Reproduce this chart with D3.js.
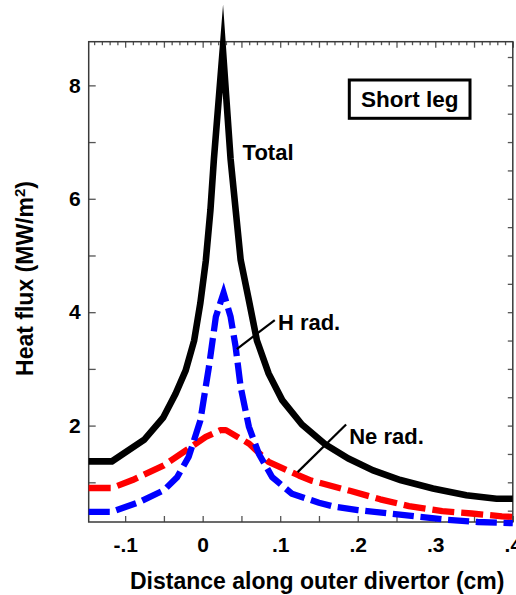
<!DOCTYPE html>
<html>
<head>
<meta charset="utf-8">
<script src="https://cdn.jsdelivr.net/npm/d3@7"></script>
<style>
  html, body { margin: 0; padding: 0; background: #fff; }
  svg { display: block; }
  text { font-family: "Liberation Sans", Arial, sans-serif; font-weight: bold; fill: #000; }
</style>
</head>
<body>
<svg id="chart" width="516" height="595"></svg>
<script>
// ---------- data ----------
const totalX = [-0.147, -0.117, -0.0755, -0.051, -0.035, -0.022, -0.011, -0.003, 0.004, 0.010, 0.0145, 0.026, 0.036, 0.049, 0.0596, 0.070, 0.085, 0.1026, 0.128, 0.158, 0.188, 0.22, 0.255, 0.297, 0.34, 0.379, 0.40];
const totalY = [1.37, 1.37, 1.75, 2.14, 2.56, 2.97, 3.5, 4.16, 4.9, 5.8, 6.7, 8.65, 6.7, 4.92, 4.21, 3.5, 2.92, 2.45, 2.02, 1.67, 1.42, 1.21, 1.04, 0.89, 0.77, 0.71, 0.71];

const hradX = [-0.147, -0.117, -0.082, -0.05, -0.033, -0.018, -0.003, 0.008, 0.017, 0.027, 0.036, 0.0425, 0.049, 0.0596, 0.0725, 0.0897, 0.115, 0.15, 0.17, 0.2, 0.24, 0.28, 0.315, 0.355, 0.40];
const hradY = [0.48, 0.48, 0.65, 0.86, 1.09, 1.45, 2.09, 3.03, 3.92, 4.34, 3.92, 3.39, 2.68, 1.98, 1.5, 1.09, 0.8, 0.64, 0.57, 0.51, 0.45, 0.39, 0.34, 0.30, 0.28];

const neradX = [-0.147, -0.117, -0.0905, -0.05, -0.022, 0.004, 0.023, 0.030, 0.06, 0.085, 0.124, 0.14, 0.19, 0.229, 0.266, 0.309, 0.347, 0.386, 0.40];
const neradY = [0.9, 0.9, 1.04, 1.3, 1.56, 1.8, 1.92, 1.92, 1.68, 1.36, 1.12, 1.03, 0.85, 0.70, 0.58, 0.49, 0.45, 0.40, 0.39];

const xDomain = [-0.147, 0.40];
const yDomain = [0.3, 8.77];
const xTickLabels = {"-0.1": "-.1", "0": "0", "0.1": ".1", "0.2": ".2", "0.3": ".3", "0.4": ".4"};
const yTickLabels = {"2": "2", "4": "4", "6": "6", "8": "8"};
const xTitle = "Distance along outer divertor (cm)";
const yTitleMain = "Heat flux (MW/m";
const yTitleSup = "2";
const yTitleEnd = ")";
const boxLabel = "Short leg";
// annotation labels, anchored in data coordinates
const notes = [
  {text: "Total",   x: 0.0515, y: 6.68},
  {text: "H rad.",  x: 0.097,  y: 3.69},
  {text: "Ne rad.", x: 0.189,  y: 1.68}
];
const pointers = [
  {x1: 0.044, y1: 3.35, x2: 0.093, y2: 3.86},
  {x1: 0.1225, y1: 1.18, x2: 0.185, y2: 2.02}
];

// ---------- layout ----------
const svg = d3.select("#chart");
const L = 88.7, R = 512.8, T = 41.7, B = 522;
const x = d3.scaleLinear().domain(xDomain).range([L, R]);
const y = d3.scaleLinear().domain(yDomain).range([B, T]);
const frameColor = "#3a3a3a";
const tickColor = "#555";

function styleAxis(g) {
  g.select(".domain").remove();
  g.selectAll(".tick line").attr("stroke", tickColor).attr("stroke-width", 1.3);
  g.selectAll(".tick text").style("font-size", "21px").style("font-family", '"Liberation Sans", Arial, sans-serif').style("font-weight", "bold").attr("fill", "#000");
}
const r3 = v => Math.round(v * 1000) / 1000;

// bottom axis: ticks every 0.05, labels every 0.1
const bottomVals = d3.range(-0.1, 0.4001, 0.05).map(r3);
svg.append("g").attr("transform", `translate(0,${B})`)
  .call(d3.axisBottom(x).tickValues(bottomVals).tickSize(-6).tickPadding(15)
    .tickFormat(d => xTickLabels[String(r3(d))] || ""))
  .call(styleAxis);

// top axis: minor ticks every 0.01, major every 0.05
const topMinor = d3.range(-0.14, 0.4001, 0.01).map(r3).filter(v => Math.abs(Math.round(v * 20) - v * 20) > 1e-6);
const topMajor = d3.range(-0.1, 0.4001, 0.05).map(r3);
svg.append("g").attr("transform", `translate(0,${T})`)
  .call(d3.axisTop(x).tickValues(topMinor).tickSize(-3.5).tickFormat(""))
  .call(styleAxis);
svg.append("g").attr("transform", `translate(0,${T})`)
  .call(d3.axisTop(x).tickValues(topMajor).tickSize(-6).tickFormat(""))
  .call(styleAxis);

// left axis: ticks every 1, labels at even values
svg.append("g").attr("transform", `translate(${L},0)`)
  .call(d3.axisLeft(y).tickValues(d3.range(1, 9)).tickSize(-7).tickPadding(8)
    .tickFormat(d => yTickLabels[String(d)] || ""))
  .call(styleAxis);

// right axis: ticks every 0.5
svg.append("g").attr("transform", `translate(${R},0)`)
  .call(d3.axisRight(y).tickValues(d3.range(0.5, 8.51, 0.5)).tickSize(-5).tickFormat(""))
  .call(styleAxis);

// frame
svg.append("rect").attr("x", L).attr("y", T).attr("width", R - L).attr("height", B - T)
  .attr("fill", "none").attr("stroke", frameColor).attr("stroke-width", 1.5);

// ---------- curves ----------
const line = d3.line().x(d => x(d[0])).y(d => y(d[1]));
const totalData = totalX.map((v, i) => [v, totalY[i]]);
const hradData = hradX.map((v, i) => [v, hradY[i]]);
const neradData = neradX.map((v, i) => [v, neradY[i]]);

svg.append("path").attr("d", line(neradData))
  .attr("fill", "none").attr("stroke", "#ff0000").attr("stroke-width", 6.3)
  .attr("stroke-dasharray", "22,7").attr("stroke-linejoin", "round");

// blue: make the dash pattern cover the peak so the tip is drawn
const peakIdx = hradY.indexOf(d3.max(hradY));
const tmp = svg.append("path").attr("d", line(hradData.slice(0, peakIdx + 1)));
const lenToPeak = tmp.node().getTotalLength();
tmp.remove();
const n = Math.max(1, Math.round((lenToPeak - 12) / 29));
const period = (lenToPeak - 12) / n;
const dash = period * 22 / 29;
svg.append("path").attr("d", line(hradData))
  .attr("fill", "none").attr("stroke", "#0000ff").attr("stroke-width", 6.3)
  .attr("stroke-dasharray", `${dash},${period - dash}`)
  .attr("stroke-linejoin", "miter").attr("stroke-miterlimit", 20);

svg.append("path").attr("d", line(totalData))
  .attr("fill", "none").attr("stroke", "#000").attr("stroke-width", 6.6)
  .attr("stroke-linejoin", "miter").attr("stroke-miterlimit", 20);

// ---------- annotations ----------
pointers.forEach(p => {
  svg.append("line").attr("x1", x(p.x1)).attr("y1", y(p.y1)).attr("x2", x(p.x2)).attr("y2", y(p.y2))
    .attr("stroke", "#000").attr("stroke-width", 2.2);
});
notes.forEach(nt => {
  svg.append("text").attr("x", x(nt.x)).attr("y", y(nt.y)).style("font-size", "22px").text(nt.text);
});

// box label
const bx = 349.3, by = 80, bw = 120.7, bh = 38.3;
svg.append("rect").attr("x", bx).attr("y", by).attr("width", bw).attr("height", bh)
  .attr("fill", "#fff").attr("stroke", "#000").attr("stroke-width", 3);
svg.append("text").attr("x", bx + bw / 2).attr("y", by + 27).attr("text-anchor", "middle")
  .style("font-size", "22.5px").text(boxLabel);

// axis titles
svg.append("text").attr("x", 130).attr("y", 588.5).style("font-size", "23px").text(xTitle);
const yt = svg.append("text").attr("transform", "translate(33,278.5) rotate(-90)")
  .attr("text-anchor", "middle").style("font-size", "23px");
yt.append("tspan").text(yTitleMain);
yt.append("tspan").attr("dy", -8).style("font-size", "15px").text(yTitleSup);
yt.append("tspan").attr("dy", 8).text(yTitleEnd);
</script>
</body>
</html>
